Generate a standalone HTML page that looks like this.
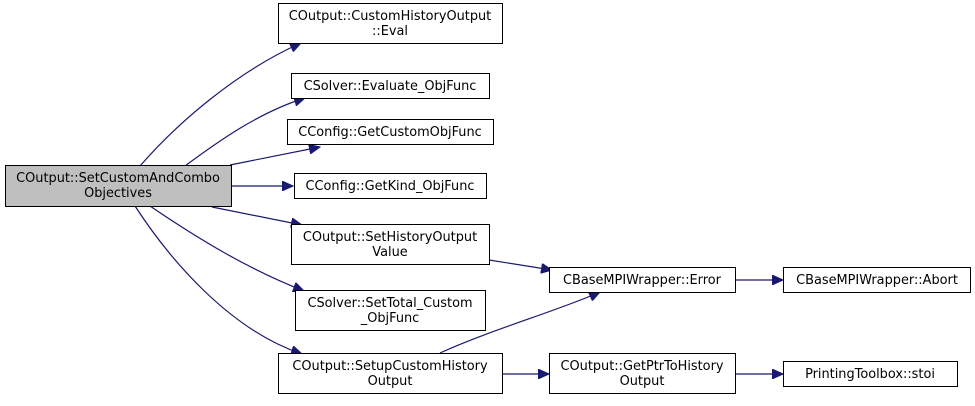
<!DOCTYPE html>
<html><head><meta charset="utf-8"><style>
body{margin:0;background:#fff;width:975px;height:401px;overflow:hidden}
text{font-family:"DejaVu Sans","Liberation Sans",sans-serif;font-size:12.9px;fill:#000}
</style></head><body>
<svg width="975" height="401" viewBox="0 0 975 401" xmlns="http://www.w3.org/2000/svg">
<defs><marker id="a" markerWidth="12" markerHeight="10" refX="11" refY="5" orient="auto" markerUnits="userSpaceOnUse"><path d="M0,0 L11,5 L0,10 z" fill="#191970" stroke="#191970"/></marker></defs>
<g fill="none" stroke="#191970" stroke-width="1.2" marker-end="url(#a)">
<path d="M140,166 C180,120 240,70 301,43"/>
<path d="M185,166 C220,140 260,112 305,98"/>
<path d="M230,165 L320,147"/>
<path d="M231,186 L293,186"/>
<path d="M212,207 L302,225"/>
<path d="M150,206 C200,240 250,270 304,291"/>
<path d="M135,206 C170,260 230,330 302,354"/>
<path d="M489,260 L552,270"/>
<path d="M440,353 C490,330 560,310 600,292"/>
<path d="M735,280 L783,280"/>
<path d="M502,374 L549,374"/>
<path d="M735,374 L783,374"/>
</g>
<g stroke="#000" stroke-width="1">
<rect x="5.5" y="165.5" width="226" height="41" fill="#bfbfbf"/>
<rect x="278.5" y="3.5" width="224" height="40" fill="#fff"/>
<rect x="291.5" y="73.5" width="198" height="25" fill="#fff"/>
<rect x="287.5" y="119.5" width="206" height="25" fill="#fff"/>
<rect x="294.5" y="173.5" width="192" height="25" fill="#fff"/>
<rect x="291.5" y="224.5" width="198" height="40" fill="#fff"/>
<rect x="295.5" y="290.5" width="190" height="40" fill="#fff"/>
<rect x="278.5" y="353.5" width="224" height="40" fill="#fff"/>
<rect x="549.5" y="267.5" width="186" height="25" fill="#fff"/>
<rect x="783.5" y="267.5" width="187" height="25" fill="#fff"/>
<rect x="549.5" y="353.5" width="186" height="40" fill="#fff"/>
<rect x="783.5" y="361.5" width="174" height="25" fill="#fff"/>
</g>
<g text-anchor="middle">
<text x="118" y="182">COutput::SetCustomAndCombo</text><text x="118" y="197">Objectives</text>
<text x="390" y="20">COutput::CustomHistoryOutput</text><text x="390" y="35">::Eval</text>
<text x="390" y="90">CSolver::Evaluate_ObjFunc</text>
<text x="390" y="136">CConfig::GetCustomObjFunc</text>
<text x="390" y="190">CConfig::GetKind_ObjFunc</text>
<text x="390" y="241">COutput::SetHistoryOutput</text><text x="390" y="256">Value</text>
<text x="390" y="307">CSolver::SetTotal_Custom</text><text x="390" y="322">_ObjFunc</text>
<text x="390" y="370">COutput::SetupCustomHistory</text><text x="390" y="385">Output</text>
<text x="642" y="284">CBaseMPIWrapper::Error</text>
<text x="877" y="284">CBaseMPIWrapper::Abort</text>
<text x="642" y="370">COutput::GetPtrToHistory</text><text x="642" y="385">Output</text>
<text x="870" y="378">PrintingToolbox::stoi</text>
</g>
</svg>
</body></html>
